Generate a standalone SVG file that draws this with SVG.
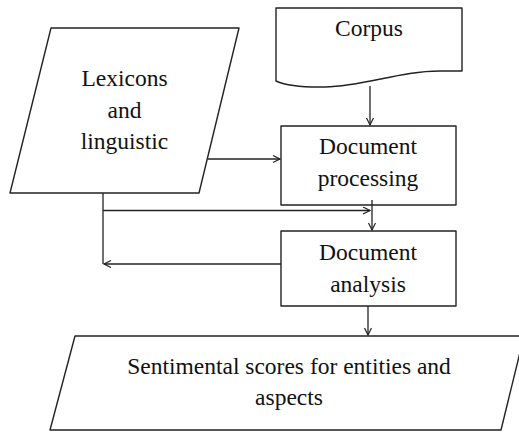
<svg xmlns="http://www.w3.org/2000/svg" width="519" height="432" viewBox="0 0 519 432">
<defs>
<marker id="arr" markerWidth="10" markerHeight="10" refX="8" refY="4" orient="auto" markerUnits="userSpaceOnUse">
<path d="M1,0.5 L8,4 L1,7.5" fill="none" stroke="#222" stroke-width="1.2"/>
</marker>
</defs>
<style>
.shape{fill:#fff;stroke:#222;stroke-width:1.4;stroke-linejoin:round}
.conn{fill:none;stroke:#222;stroke-width:1.3}
.t{font-family:'Liberation Serif','Times New Roman','DejaVu Serif',serif;font-size:23.5px;fill:#111;text-anchor:middle}
</style>
<rect width="519" height="432" fill="#fff"/>
<g id="lexicons">
<polygon class="shape" points="51,28 239,28 199,193 10,193"/>
<text class="t" font-family="Liberation Serif, serif" x="124.5" y="86">Lexicons</text>
<text class="t" font-family="Liberation Serif, serif" x="124.5" y="117.5">and</text>
<text class="t" font-family="Liberation Serif, serif" x="124.5" y="149">linguistic</text>
</g>
<g id="corpus">
<path class="shape" d="M276,8 H462 V71 H440 C400,71 365,86 325,87 C302,87.5 285,85 276,81 Z"/>
<text class="t" font-family="Liberation Serif, serif" x="369" y="36">Corpus</text>
</g>
<g id="docproc">
<rect class="shape" x="281" y="126" width="175" height="79"/>
<text class="t" font-family="Liberation Serif, serif" x="368" y="154">Document</text>
<text class="t" font-family="Liberation Serif, serif" x="368" y="185.5">processing</text>
</g>
<g id="docanal">
<rect class="shape" x="281" y="231" width="175" height="75"/>
<text class="t" font-family="Liberation Serif, serif" x="368" y="260">Document</text>
<text class="t" font-family="Liberation Serif, serif" x="368" y="291.5">analysis</text>
</g>
<g id="scores">
<polygon class="shape" points="75,336 524,336 501,430 50,430"/>
<text class="t" font-family="Liberation Serif, serif" x="289" y="374">Sentimental scores for entities and</text>
<text class="t" font-family="Liberation Serif, serif" x="289" y="405">aspects</text>
</g>
<g id="connectors">
<line class="conn" x1="370" y1="86" x2="370" y2="125" marker-end="url(#arr)"/>
<line class="conn" x1="208" y1="159" x2="280" y2="159" marker-end="url(#arr)"/>
<polyline class="conn" points="103,193 103,264"/>
<line class="conn" x1="103" y1="210.5" x2="370" y2="210.5" marker-end="url(#arr)"/>
<line class="conn" x1="372" y1="200" x2="372" y2="230" marker-end="url(#arr)"/>
<line class="conn" x1="281" y1="264" x2="104" y2="264" marker-end="url(#arr)"/>
<line class="conn" x1="368" y1="306" x2="368" y2="335" marker-end="url(#arr)"/>
</g>
</svg>
